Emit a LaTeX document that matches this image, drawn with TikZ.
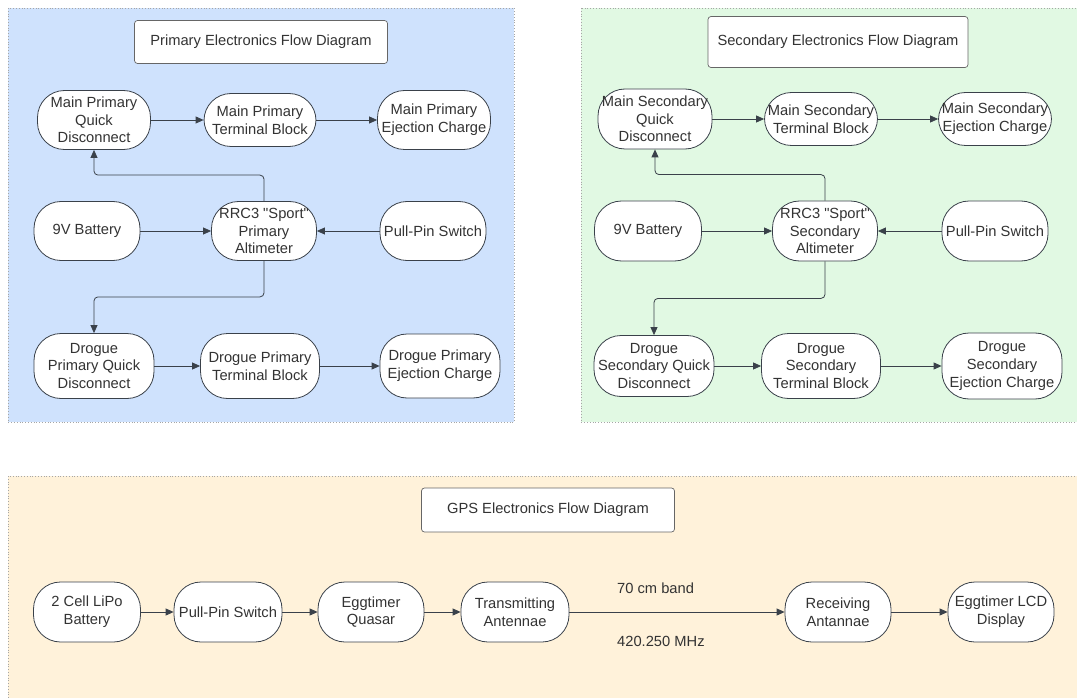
\documentclass[tikz,border=0pt]{standalone}
\usepackage{fontspec}
\setmainfont{Liberation Sans}[Ligatures=TeXOff]
\usetikzlibrary{arrows.meta}

\definecolor{lineC}{RGB}{58,65,74}
\definecolor{textC}{RGB}{51,51,51}
\definecolor{blueP}{RGB}{207,226,253}
\definecolor{greenP}{RGB}{225,249,227}
\definecolor{orangeP}{RGB}{255,242,218}

\tikzset{
  pnl/.style={draw=gray!70, dotted, line width=0.8pt},
  blk/.style 2 args={draw=lineC, fill=white, line width=0.8pt, rounded corners=27pt,
    minimum width=#1pt, minimum height=#2pt, inner sep=0pt, align=center,
    text=textC, font=\fontsize{14.7}{17.7}\selectfont},
  ttl/.style 2 args={draw=gray!80!black, fill=white, line width=0.7pt, rounded corners=3pt,
    minimum width=#1pt, minimum height=#2pt, inner sep=0pt,
    text=textC, font=\fontsize{14.7}{17.7}\selectfont},
  lbl/.style={text=textC, inner sep=0pt, font=\fontsize{14.7}{17.7}\selectfont},
  arr/.style={draw=lineC, line width=0.8pt, -{Triangle[length=8pt,width=7pt]}}
}

\begin{document}
\begin{tikzpicture}[x=1pt,y=-1pt]
\useasboundingbox (0,0) rectangle (1077,698);
\fill[white] (0,0) rectangle (1077,698);
\filldraw[pnl, fill=blueP] (8,8) rectangle (514,422);
\filldraw[pnl, fill=greenP] (581,8) rectangle (1082,422);
\filldraw[pnl, fill=orangeP] (8,476) rectangle (1082,704);

\node[ttl={253}{43}] (p_title) at (261,42) {Primary Electronics Flow Diagram};
\node[blk={113}{59}] (p_mqd) at (94,120) {Main Primary\\Quick\\Disconnect};
\node[blk={112}{53}] (p_mtb) at (260,120) {Main Primary\\Terminal Block};
\node[blk={113}{59}] (p_mec) at (434,120) {Main Primary\\Ejection Charge};
\node[blk={106}{59}] (p_bat) at (87,231) {9V Battery};
\node[blk={105}{59}] (p_rrc) at (264,231) {RRC3 "Sport"\\Primary\\Altimeter};
\node[blk={106}{59}] (p_pin) at (433,231) {Pull-Pin Switch};
\node[blk={120}{65}] (p_dqd) at (94,366) {Drogue\\Primary Quick\\Disconnect};
\node[blk={119}{65}] (p_dtb) at (260,366) {Drogue Primary\\Terminal Block};
\node[blk={120}{64}] (p_dec) at (440,366) {Drogue Primary\\Ejection Charge};

\draw[arr] (p_mqd) -- (p_mtb);
\draw[arr] (p_mtb) -- (p_mec);
\draw[arr] (p_bat) -- (p_rrc);
\draw[arr] (p_pin) -- (p_rrc);
\draw[arr, rounded corners=4pt] (p_rrc.north) -- ++(0,-26) -| (p_mqd.south);
\draw[arr, rounded corners=4pt] (p_rrc.south) -- ++(0,36) -| (p_dqd.north);
\draw[arr] (p_dqd) -- (p_dtb);
\draw[arr] (p_dtb) -- (p_dec);

\node[ttl={260}{51}] (s_title) at (838,42) {Secondary Electronics Flow Diagram};
\node[blk={114}{60}] (s_mqd) at (655,119) {Main Secondary\\Quick\\Disconnect};
\node[blk={113}{53}] (s_mtb) at (821,119) {Main Secondary\\Terminal Block};
\node[blk={113}{53}] (s_mec) at (995,119) {Main Secondary\\Ejection Charge};
\node[blk={107}{60}] (s_bat) at (648,231) {9V Battery};
\node[blk={105}{60}] (s_rrc) at (825,231) {RRC3 "Sport"\\Secondary\\Altimeter};
\node[blk={106}{60}] (s_pin) at (995,231) {Pull-Pin Switch};
\node[blk={120}{61}] (s_dqd) at (654,366) {Drogue\\Secondary Quick\\Disconnect};
\node[blk={119}{65}] (s_dtb) at (821,366) {Drogue\\Secondary\\Terminal Block};
\node[blk={120}{66}] (s_dec) at (1002,366) {Drogue\\Secondary\\Ejection Charge};

\draw[arr] (s_mqd) -- (s_mtb);
\draw[arr] (s_mtb) -- (s_mec);
\draw[arr] (s_bat) -- (s_rrc);
\draw[arr] (s_pin) -- (s_rrc);
\draw[arr, rounded corners=4pt] (s_rrc.north) -- ++(0,-26) -| (s_mqd.south);
\draw[arr, rounded corners=4pt] (s_rrc.south) -- ++(0,37) -| (s_dqd.north);
\draw[arr] (s_dqd) -- (s_dtb);
\draw[arr] (s_dtb) -- (s_dec);

\node[ttl={253}{44}] (g_title) at (548,510) {GPS Electronics Flow Diagram};
\node[blk={107}{60}] (g_bat) at (87,612) {2 Cell LiPo\\Battery};
\node[blk={108}{60}] (g_pin) at (228,612) {Pull-Pin Switch};
\node[blk={106}{60}] (g_egg) at (371,612) {Eggtimer\\Quasar};
\node[blk={108}{60}] (g_tx) at (515,612) {Transmitting\\Antennae};
\node[blk={106}{60}] (g_rx) at (838,612) {Receiving\\Antannae};
\node[blk={106}{60}] (g_lcd) at (1001,612) {Eggtimer LCD\\Display};
\node[lbl, anchor=west] (g_band) at (617,588) {70 cm band};
\node[lbl, anchor=west] (g_freq) at (617,641) {420.250 MHz};

\draw[arr] (g_bat) -- (g_pin);
\draw[arr] (g_pin) -- (g_egg);
\draw[arr] (g_egg) -- (g_tx);
\draw[arr] (g_tx) -- (g_rx);
\draw[arr] (g_rx) -- (g_lcd);
\end{tikzpicture}
\end{document}
